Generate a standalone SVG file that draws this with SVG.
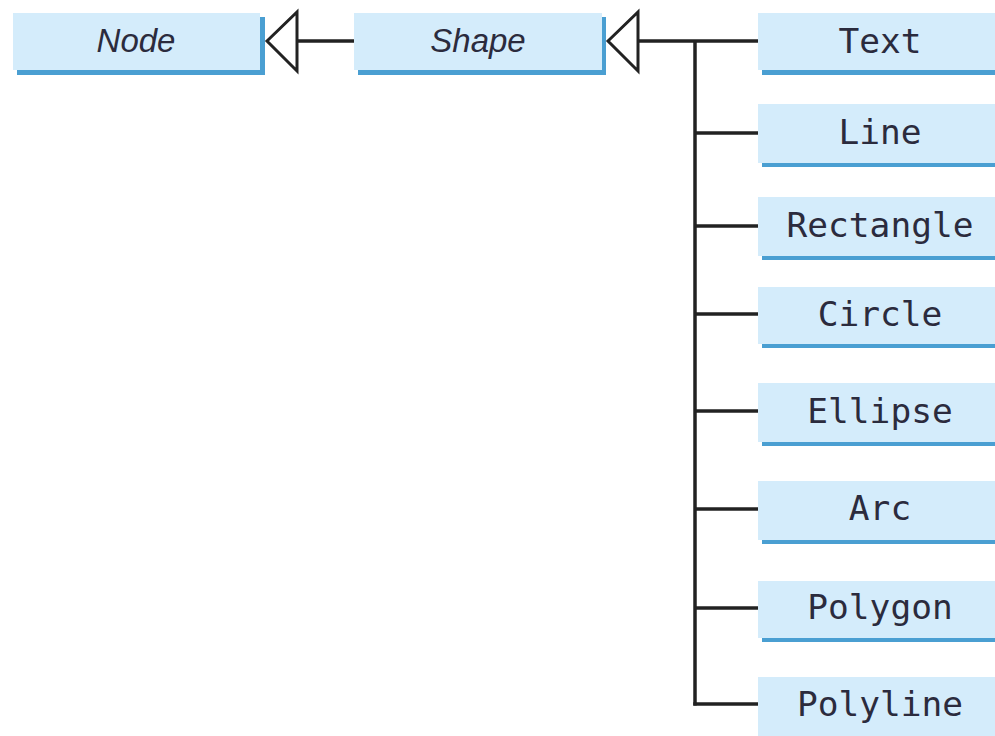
<svg xmlns="http://www.w3.org/2000/svg" width="995" height="736" viewBox="0 0 995 736">
<style>
.sh{fill:#4a9fd2}
.bx{fill:#d4ecfb}
.it{font-family:"Liberation Sans",Arial,sans-serif;font-style:italic;font-size:33px;fill:#2b2b3d;text-anchor:middle}
.mo{font-family:"DejaVu Sans Mono","Liberation Mono",monospace;font-size:34.5px;fill:#2b2b3d;text-anchor:middle}
.ln{stroke:#222;stroke-width:3.5;fill:none}
.tri{stroke:#222;stroke-width:3;fill:#fff;stroke-linejoin:miter}
</style>
<rect width="995" height="736" fill="#fff"/>
<g id="connectors">
<line class="ln" x1="297" y1="41" x2="354" y2="41"/>
<polygon class="tri" points="267,41 297,12 297,71"/>
<line class="ln" x1="638" y1="41" x2="758" y2="41"/>
<polygon class="tri" points="608,41 638,12 638,71"/>
<line class="ln" x1="695" y1="41" x2="695" y2="705.5"/>
<line class="ln" x1="694" y1="133" x2="758" y2="133"/>
<line class="ln" x1="694" y1="226" x2="758" y2="226"/>
<line class="ln" x1="694" y1="314" x2="758" y2="314"/>
<line class="ln" x1="694" y1="411" x2="758" y2="411"/>
<line class="ln" x1="694" y1="509" x2="758" y2="509"/>
<line class="ln" x1="694" y1="608" x2="758" y2="608"/>
<line class="ln" x1="693.3" y1="704" x2="758" y2="704"/>
</g>
<g id="node-Node">
<rect class="sh" x="17" y="17" width="248" height="58"/>
<rect class="bx" x="13" y="13" width="247" height="57"/>
<text class="it" x="136" y="52">Node</text>
</g>
<g id="node-Shape">
<rect class="sh" x="358" y="17" width="248" height="58"/>
<rect class="bx" x="354" y="13" width="248" height="57"/>
<text class="it" x="478" y="52">Shape</text>
</g>
<g id="node-Text">
<rect class="sh" x="762" y="17" width="240" height="58"/>
<rect class="bx" x="758" y="13" width="240" height="57"/>
<text class="mo" x="880" y="53">Text</text>
</g>
<g id="node-Line">
<rect class="sh" x="762" y="108" width="240" height="59"/>
<rect class="bx" x="758" y="104" width="240" height="59"/>
<text class="mo" x="880" y="144">Line</text>
</g>
<g id="node-Rectangle">
<rect class="sh" x="762" y="201" width="240" height="59"/>
<rect class="bx" x="758" y="197" width="240" height="59"/>
<text class="mo" x="880" y="237">Rectangle</text>
</g>
<g id="node-Circle">
<rect class="sh" x="762" y="291" width="240" height="57"/>
<rect class="bx" x="758" y="287" width="240" height="57"/>
<text class="mo" x="880" y="326">Circle</text>
</g>
<g id="node-Ellipse">
<rect class="sh" x="762" y="387" width="240" height="59"/>
<rect class="bx" x="758" y="383" width="240" height="59"/>
<text class="mo" x="880" y="423">Ellipse</text>
</g>
<g id="node-Arc">
<rect class="sh" x="762" y="485" width="240" height="59"/>
<rect class="bx" x="758" y="481" width="240" height="59"/>
<text class="mo" x="880" y="520">Arc</text>
</g>
<g id="node-Polygon">
<rect class="sh" x="762" y="585" width="240" height="57"/>
<rect class="bx" x="758" y="581" width="240" height="57"/>
<text class="mo" x="880" y="619">Polygon</text>
</g>
<g id="node-Polyline">
<rect class="sh" x="762" y="681" width="240" height="59"/>
<rect class="bx" x="758" y="677" width="240" height="59"/>
<text class="mo" x="880" y="716">Polyline</text>
</g>
</svg>
